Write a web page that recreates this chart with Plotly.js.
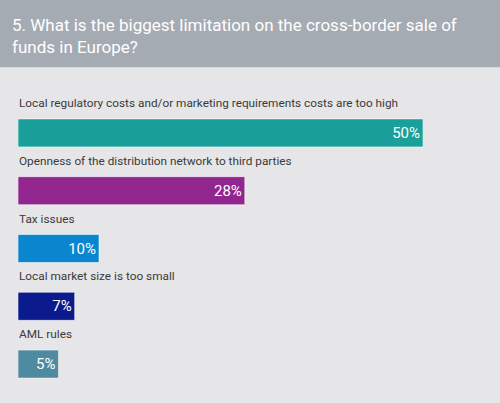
<!DOCTYPE html>
<html><head><meta charset="utf-8">
<script src="https://cdn.plot.ly/plotly-3.0.1.min.js"></script>
<style>html,body{margin:0;padding:0;background:#E6E6E8;}#chart{width:500px;height:403px;}</style>
</head><body><div id="chart"></div>
<script>
const categories = [
  "Local regulatory costs and/or marketing requirements costs are too high",
  "Openness of the distribution network to third parties",
  "Tax issues",
  "Local market size is too small",
  "AML rules"
];
const values = [50, 28, 10, 7, 5];
const barColors = ["#1A9F9A", "#91268E", "#0A86CF", "#0B1A8C", "#4E8AA0"];
const titleText = "5. What is the biggest limitation on the cross-border sale of<br>funds in Europe?";

const FONT = "Roboto, 'Noto Sans', sans-serif";
const trace = {
  type: "bar",
  orientation: "h",
  y: categories,
  x: values,
  width: 0.485,
  marker: {color: barColors, line: {color: "rgba(255,255,255,0.55)", width: 1}},
  texttemplate: "%{x}%",
  textposition: "inside",
  insidetextanchor: "end",
  textangle: 0,
  constraintext: "none",
  insidetextfont: {family: FONT, size: 15, color: "#FFFFFF"},
  hoverinfo: "none"
};

const annotations = categories.map(c => ({
  xref: "x", yref: "y", x: 0, y: c, xanchor: "left", yanchor: "middle",
  yshift: 30, xshift: -1, showarrow: false, text: c,
  font: {family: FONT, size: 11.8, color: "#3A3A3A"}
}));

const PH = 288.75;
annotations.push({
  xref: "paper", yref: "paper", x: -8/405, y: 1 + (104-13)/PH,
  xanchor: "left", yanchor: "top", align: "left", showarrow: false,
  text: titleText,
  font: {family: FONT, size: 17, color: "#FFFFFF"}
});

const layout = {
  width: 500, height: 403,
  paper_bgcolor: "#E6E6E8", plot_bgcolor: "rgba(0,0,0,0)",
  margin: {l: 18, r: 77, t: 104, b: 10},
  showlegend: false,
  xaxis: {range: [0, 50], visible: false, fixedrange: true},
  yaxis: {range: [4.5, -0.5], visible: false, fixedrange: true, type: "category"},
  bargap: 0,
  shapes: [
    {type: "rect", xref: "paper", yref: "paper", layer: "below",
     x0: -0.1, x1: 1.3, y0: 1 + (104-67)/PH, y1: 1.5,
     fillcolor: "#A5ABB2", line: {width: 0}},
    {type: "line", xref: "paper", yref: "paper", layer: "below",
     x0: -0.1, x1: 1.3, y0: 1 + (104-67.5)/PH, y1: 1 + (104-67.5)/PH,
     line: {color: "#D8DADD", width: 1}}
  ],
  annotations: annotations
};

Plotly.newPlot("chart", [trace], layout, {displayModeBar: false, staticPlot: true});
</script></body></html>
